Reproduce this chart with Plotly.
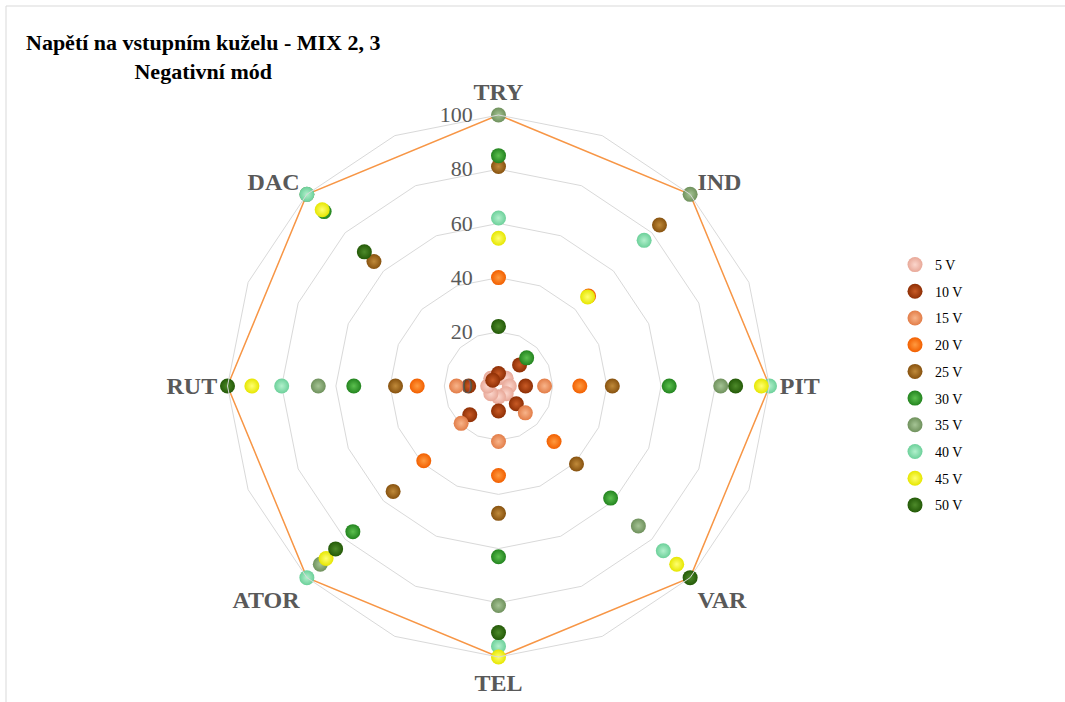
import plotly.graph_objects as go

# Axes of the radar (clockwise from the top)
categories = ["TRY", "IND", "PIT", "VAR", "TEL", "ATOR", "RUT", "DAC"]

# Relative response (%) at each cone voltage
v5 = [3, 4, 4, 4, 4, 4, 4, 4]
v10 = [4.6, 11, 10, 9.3, 9.2, 15, 11, 3]
v15 = [0, 0, 17, 14, 20.5, 19.5, 15.5, 0]
v20 = [40, 47, 30, 29, 33, 39, 30, 0]
v25 = [81, 84, 42, 40.7, 47, 55, 38, 65]
v30 = [85, 14.7, 63, 58.5, 63, 76, 53.4, 91]
v35 = [100, 100, 82, 73, 81, 93, 66.5, 100]
v40 = [62, 76, 100, 86, 96, 100, 80, 100]
v45 = [54.5, 46.5, 97, 93, 100, 90, 91, 92]
v50 = [22, None, 87.5, 100, 91, 85, 100, 70]
maximum = [100, 100, 100, 100, 100, 100, 100, 100]

series_names = ["5 V", "10 V", "15 V", "20 V", "25 V", "30 V", "35 V", "40 V", "45 V", "50 V"]
series_values = [v5, v10, v15, v20, v25, v30, v35, v40, v45, v50]
# (edge colour, highlight colour) of the shaded ball markers
series_colors = [
    ("#e8a898", "#fbd6cc"),
    ("#8e2f05", "#c85a25"),
    ("#e27d48", "#f8b48a"),
    ("#f25f00", "#ff9a40"),
    ("#87520f", "#c08a3a"),
    ("#23841f", "#5cc04f"),
    ("#6f915c", "#a5c495"),
    ("#6cd09a", "#b2f0cc"),
    ("#e6e600", "#ffff70"),
    ("#245a08", "#4d8a2a"),
]

# 16 angular slots: the named axes with an unnamed slot between each pair,
# so that the polygonal grid has a vertex half-way between two axes
slots = []
for i, c in enumerate(categories):
    slots.append(c)
    slots.append(" " * (i + 1))

serif = "Liberation Serif, Times New Roman, serif"
grey_text = "#595959"
grid = "#d9d9d9"
nbsp = "\u00a0"

fig = go.Figure()

# envelope at 100 %
fig.add_trace(go.Scatterpolar(
    r=maximum + [maximum[0]],
    theta=categories + [categories[0]],
    mode="lines",
    line=dict(color="#f79646", width=1.5),
    showlegend=False,
    hoverinfo="skip",
))

for name, vals, (edge, light) in zip(series_names, series_values, series_colors):
    fig.add_trace(go.Scatterpolar(
        r=vals,
        theta=categories,
        mode="markers",
        name=name,
        legendgroup=name,
        marker=dict(
            size=15,
            color=edge,
            gradient=dict(type="radial", color=light),
            line=dict(width=0),
        ),
    ))

W, H = 1065, 702
cx, cy, rad = 498.5, 386.0, 271.0

fig.update_layout(
    width=W,
    height=H,
    margin=dict(l=0, r=0, t=0, b=0),
    paper_bgcolor="white",
    plot_bgcolor="white",
    font=dict(family=serif, color=grey_text),
    polar=dict(
        domain=dict(
            x=[(cx - rad) / W, (cx + rad) / W],
            y=[1 - (cy + rad) / H, 1 - (cy - rad) / H],
        ),
        bgcolor="white",
        gridshape="linear",
        angularaxis=dict(
            type="category",
            categoryorder="array",
            categoryarray=slots,
            direction="clockwise",
            rotation=90,
            showgrid=False,
            showline=True,
            linecolor=grid,
            linewidth=1,
            ticks="outside",
            ticklen=5,
            tickcolor="rgba(0,0,0,0)",
            tickfont=dict(family=serif, size=24, color=grey_text, weight="bold"),
        ),
        radialaxis=dict(
            range=[0, 100],
            dtick=20,
            angle=90,
            side="counterclockwise",
            showline=False,
            ticks="",
            gridcolor=grid,
            gridwidth=1,
            tickangle=90,
            ticksuffix=nbsp * 4,
            tickfont=dict(family=serif, size=22, color=grey_text),
        ),
    ),
    legend=dict(
        x=895 / W,
        y=1 - 249 / H,
        xanchor="left",
        yanchor="top",
        font=dict(family=serif, size=14, color="#000000"),
        tracegroupgap=5.5,
        itemwidth=30,
        bgcolor="rgba(0,0,0,0)",
    ),
    annotations=[
        dict(
            text="<b>Napětí na vstupním kuželu - MIX 2, 3</b><br><b>Negativní mód</b>",
            x=203 / W,
            y=1 - 57 / H,
            xref="paper",
            yref="paper",
            xanchor="center",
            yanchor="middle",
            showarrow=False,
            font=dict(family=serif, size=22, color="#000000"),
        )
    ],
    shapes=[
        dict(
            type="rect",
            xref="paper",
            yref="paper",
            x0=6 / W,
            x1=1075 / W,
            y0=1 - 712 / H,
            y1=1 - 6 / H,
            line=dict(color="#d9d9d9", width=1),
            fillcolor="rgba(0,0,0,0)",
        )
    ],
)

fig.write_html("out.html")
